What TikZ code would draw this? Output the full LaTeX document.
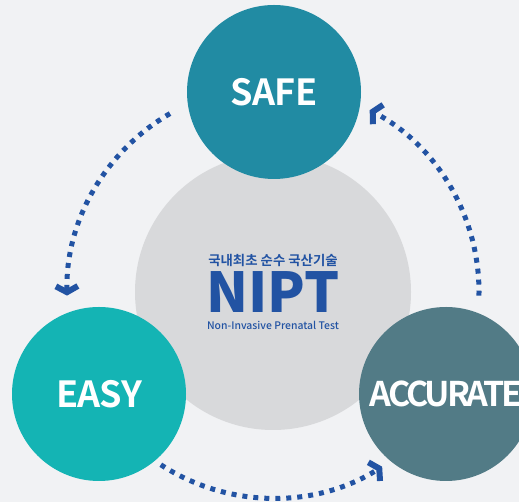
\documentclass[tikz,border=0pt]{standalone}
\usepackage{fontspec}
\setmainfont{Noto Sans CJK KR}[BoldFont=* Bold]
\newfontfamily\negra{Noto Sans CJK KR Black}
\newfontfamily\media{Noto Sans CJK KR Medium}
\usetikzlibrary{arrows.meta}

\definecolor{fondo}{HTML}{F1F2F4}
\definecolor{nucleo}{HTML}{D8D9DB}
\definecolor{azulsafe}{HTML}{218BA3}
\definecolor{azuleasy}{HTML}{14B4B4}
\definecolor{azulacc}{HTML}{527B86}
\definecolor{azultxt}{HTML}{2253A3}

\begin{document}
\begin{tikzpicture}[
    x=1pt, y=1pt,
    bola/.style={circle,inner sep=0pt,minimum size=174pt,text=white,
                 font=\bfseries\fontsize{36}{36}\selectfont\addfontfeature{LetterSpace=-2}},
    texto/.style={text=azultxt,inner sep=0pt},
    flecha/.style={draw=azultxt,line width=5pt,dash pattern=on 5pt off 6pt,
                   -{Straight Barb[length=6pt,width=22pt,line width=6pt]}}]

  \fill[fondo] (0,0) rectangle (519,502);
  \useasboundingbox (0,0) rectangle (519,502);

  %% ============================ nucleo central =============================
  \node[circle,fill=nucleo,inner sep=0pt,minimum size=276pt] (nucleo) at (273,210) {};
  \node[texto,font=\bfseries\fontsize{13.4}{14}\selectfont] (lema) at (273,242)
    {국내최초 순수 국산기술};
  \node[texto,font=\negra\fontsize{55}{55}\selectfont] (nipt) at (273,210) {NIPT};
  \node[texto,font=\media\fontsize{10.4}{11}\selectfont] (sub) at (273,177)
    {Non-Invasive Prenatal Test};

  %% ============================== tres bolas ===============================
  \node[bola,fill=azulsafe] (safe) at (274,410) {SAFE};
  \node[bola,fill=azuleasy] (easy) at (99,108) {EASY};
  \node[bola,fill=azulacc,font=\bfseries\fontsize{34}{34}\selectfont\addfontfeature{LetterSpace=-9}]
    (acc) at (446,108) {ACCURATE};

  %% =============================== flechas =================================
  \foreach \ini/\fin in {120/181, 237/302, -1/62}
    \draw[flecha] ([shift={(\ini:206)}]nucleo.center)
      arc[start angle=\ini, end angle=\fin, radius=206];

\end{tikzpicture}
\end{document}
